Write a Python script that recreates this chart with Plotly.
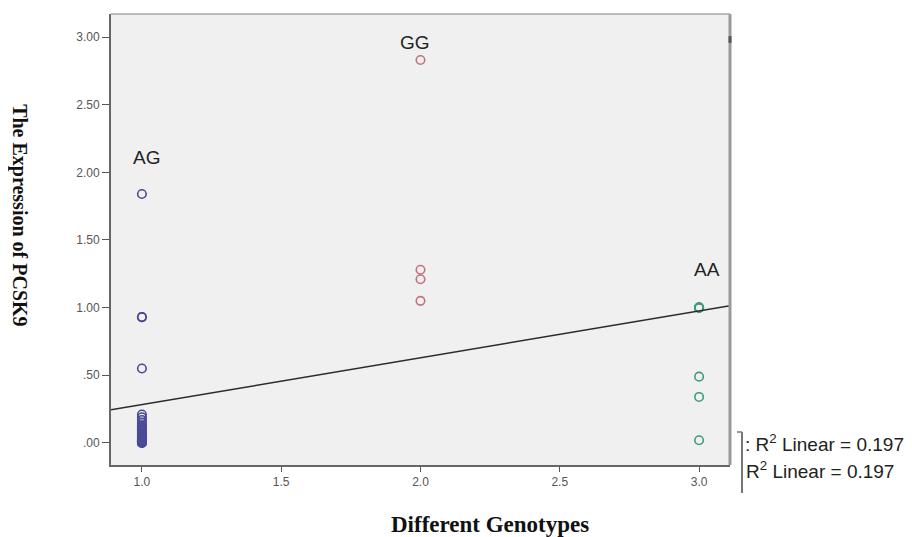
import numpy as np
import plotly.graph_objects as go

# ---- data ----
genotype_labels = ["AG", "GG", "AA"]
genotype_codes = [1.0, 2.0, 3.0]

ag_values = [1.84, 0.93, 0.93, 0.55,
             0.21, 0.19, 0.17, 0.15, 0.13, 0.12, 0.11, 0.10, 0.09, 0.08,
             0.07, 0.06, 0.05, 0.05, 0.04, 0.03, 0.03, 0.02, 0.02, 0.01,
             0.01, 0.01, 0.00, 0.00]
gg_values = [2.83, 1.28, 1.21, 1.05]
aa_values = [1.00, 1.00, 1.00, 1.00, 1.00, 1.00, 0.49, 0.34, 0.02]

group_label_pos_x = [1.018, 1.98, 3.03]
group_label_pos_y = [2.11, 2.96, 1.28]

x_tick_vals = [1.0, 1.5, 2.0, 2.5, 3.0]
x_tick_text = ["1.0", "1.5", "2.0", "2.5", "3.0"]
y_tick_vals = [0.0, 0.5, 1.0, 1.5, 2.0, 2.5, 3.0]
y_tick_text = [".00", ".50", "1.00", "1.50", "2.00", "2.50", "3.00"]

x_range = [0.889, 3.111]
y_range = [-0.163, 3.17]

r2_text = "R<sup>2</sup> Linear = 0.197"

colors = ["#4a4a96", "#c4707e", "#3f9a7e"]

groups = [ag_values, gg_values, aa_values]

fig = go.Figure()

for code, vals, col, lab in zip(genotype_codes, groups, colors, genotype_labels):
    fig.add_trace(go.Scatter(
        x=[code] * len(vals), y=vals, mode="markers", name=lab,
        marker=dict(symbol="circle-open", size=8.5, color=col,
                    line=dict(width=1.6, color=col)),
        showlegend=False,
    ))

# linear fit at total
all_x = np.concatenate([[c] * len(v) for c, v in zip(genotype_codes, groups)])
all_y = np.concatenate(groups)
slope, intercept = np.polyfit(all_x, all_y, 1)
fx = np.array(x_range)
fig.add_trace(go.Scatter(x=fx, y=intercept + slope * fx, mode="lines",
                         line=dict(color="#2b2b2b", width=1.5),
                         showlegend=False, hoverinfo="skip"))

for lab, px, py in zip(genotype_labels, group_label_pos_x, group_label_pos_y):
    fig.add_annotation(x=px, y=py, text=lab, showarrow=False,
                       font=dict(family="Liberation Sans, Arial", size=19, color="#222222"))

# axis titles
fig.add_annotation(xref="paper", yref="paper", x=-0.147, y=0.554, text="<b>The Expression of PCSK9</b>",
                   textangle=90, showarrow=False, xanchor="center", yanchor="middle",
                   font=dict(family="Liberation Serif, Times New Roman", size=20, color="#111111"))
fig.add_annotation(xref="paper", yref="paper", x=0.612, y=-0.133, text="<b>Different Genotypes</b>",
                   showarrow=False, yanchor="middle",
                   font=dict(family="Liberation Serif, Times New Roman", size=23, color="#111111"))

# legend-like R2 labels
fig.add_annotation(xref="paper", yref="paper", x=1.021, y=0.048, xanchor="left", yanchor="middle",
                   text=": " + r2_text, showarrow=False,
                   font=dict(family="Liberation Sans, Arial", size=19, color="#222222"))
fig.add_annotation(xref="paper", yref="paper", x=1.0226, y=-0.010, xanchor="left", yanchor="middle",
                   text=r2_text, showarrow=False,
                   font=dict(family="Liberation Sans, Arial", size=19, color="#222222"))
fig.add_shape(type="line", xref="paper", yref="paper", x0=1.0194, x1=1.0194, y0=0.0732, y1=-0.062,
              line=dict(color="#777777", width=2))
fig.add_shape(type="line", xref="paper", yref="paper", x0=1.0113, x1=1.0194, y0=0.0732, y1=0.0732,
              line=dict(color="#777777", width=1.5))
# top border (thin, light gray) and right border (thicker, gray)
fig.add_shape(type="line", xref="paper", yref="paper", x0=0, x1=1.0, y0=1, y1=1,
              line=dict(color="#a8a8a8", width=1.5))
fig.add_shape(type="line", xref="paper", yref="paper", x0=1.0, x1=1.0, y0=0, y1=1,
              line=dict(color="#9a9a9a", width=3))
fig.add_shape(type="line", xref="paper", yref="paper", x0=1.0, x1=1.0, y0=0.951, y1=0.936,
              line=dict(color="#555555", width=3))

fig.update_xaxes(range=x_range, tickvals=x_tick_vals, ticktext=x_tick_text,
                 ticks="outside", ticklen=5, tickcolor="#555555", tickwidth=1.2,
                 showgrid=False, zeroline=False, showline=True, linecolor="#666666",
                 linewidth=2, mirror=False,
                 tickfont=dict(family="Liberation Sans, Arial", size=12, color="#555555"))
fig.update_yaxes(range=y_range, tickvals=y_tick_vals, ticktext=y_tick_text,
                 ticks="outside", ticklen=7, tickcolor="#555555", tickwidth=1.2,
                 showgrid=False, zeroline=False, showline=True, linecolor="#666666",
                 linewidth=2, mirror=False,
                 tickfont=dict(family="Liberation Sans, Arial", size=12, color="#555555"))

fig.update_layout(width=904, height=529, autosize=False,
                  margin=dict(l=103, r=182, t=6, b=72),
                  plot_bgcolor="#f0f0f0", paper_bgcolor="white",
                  showlegend=False)

fig.write_html("out.html")
